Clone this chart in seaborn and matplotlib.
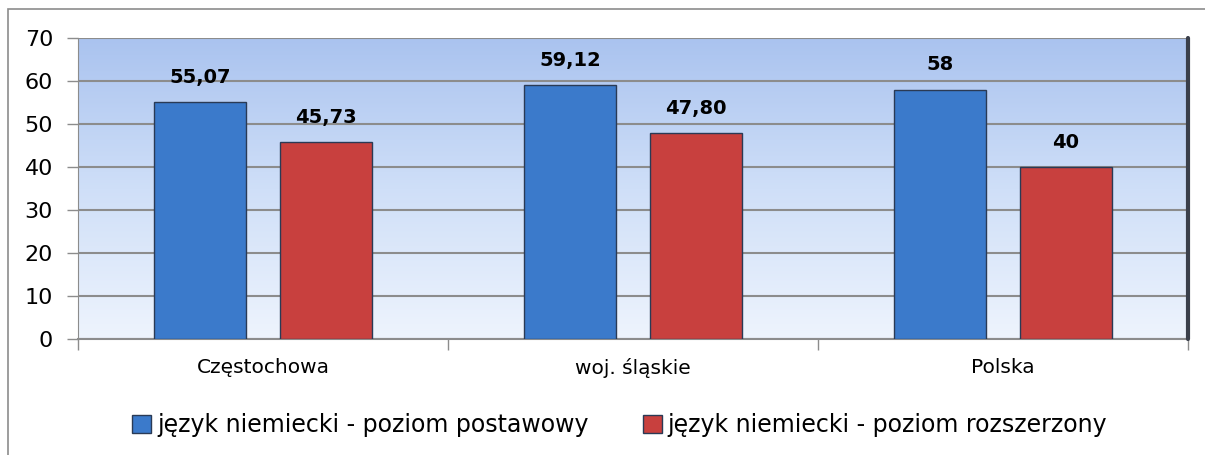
import numpy as np
import pandas as pd
import matplotlib
matplotlib.use('Agg')
import matplotlib.pyplot as plt
import seaborn as sns
from matplotlib.patches import Rectangle

categories = ['Częstochowa', 'woj. śląskie', 'Polska']
series_names = ['język niemiecki - poziom postawowy',
                'język niemiecki - poziom rozszerzony']
basic = [55.07, 59.12, 58]
extended = [45.73, 47.80, 40]
basic_labels = ['55,07', '59,12', '58']
extended_labels = ['45,73', '47,80', '40']
yticks = [0, 10, 20, 30, 40, 50, 60, 70]

df = pd.DataFrame({
    'miasto': categories * 2,
    'seria': [series_names[0]] * 3 + [series_names[1]] * 3,
    'wynik': basic + extended,
})

sns.set_style('white')
plt.rcParams['font.family'] = ['DejaVu Sans']
plt.rcParams['text.color'] = 'black'
plt.rcParams['xtick.labelcolor'] = 'black'
plt.rcParams['ytick.labelcolor'] = 'black'

fig = plt.figure(figsize=[12.05, 4.55], dpi=100)
ax = fig.add_axes([78 / 1205, 1 - 339 / 455, 1110 / 1205, 301 / 455])

# outer chart border
fig.patches.append(Rectangle((8 / 1205, -0.1), 1.2, 1 - 9 / 455 + 0.1,
                             transform=fig.transFigure, fill=False,
                             edgecolor='#8c8c8c', linewidth=1.2))

# background gradient of the plot area
grad = np.linspace(0, 1, 256)[:, np.newaxis]
cmap = matplotlib.colors.LinearSegmentedColormap.from_list(
    'bg', ['#eef4fd', '#cfdff8', '#aac3ef'])
ax.imshow(grad, aspect='auto', cmap=cmap, origin='lower',
          extent=[-0.5, 2.5, 0, 70], zorder=0)

palette = ['#3b7acb', '#c8403e']
sns.barplot(data=df, x='miasto', y='wynik', hue='seria', order=categories,
            hue_order=series_names, palette=palette, width=0.68, gap=0.265,
            saturation=1, edgecolor='#2a3a55', linewidth=1.0, ax=ax,
            zorder=3)

for cont, labels in zip(ax.containers, [basic_labels, extended_labels]):
    ax.bar_label(cont, labels=labels, padding=11, fontsize=14,
                 fontweight='bold', color='black')

ax.set_xlim(-0.5, 2.5)
ax.set_ylim(0, 70)
ax.set_yticks(yticks)
ax.set_yticklabels([str(t) for t in yticks], fontsize=16)
ax.yaxis.grid(True, color='#8c8c8c', linewidth=1.5, zorder=1)
ax.set_axisbelow(True)
ax.tick_params(axis='y', length=8, width=1, color='#8c8c8c', pad=10, left=True)
ax.tick_params(axis='x', which='major', length=0, pad=14, labelsize=14.5)
ax.set_xticks([-0.5, 0.5, 1.5, 2.5], minor=True)
ax.tick_params(axis='x', which='minor', length=8, width=1, color='#8c8c8c',
               bottom=True)
ax.set_xlabel('')
ax.set_ylabel('')
for side in ['top', 'right']:
    ax.spines[side].set_visible(False)
ax.spines['left'].set_color('#8c8c8c')
ax.spines['bottom'].set_color('#8c8c8c')
ax.spines['bottom'].set_linewidth(1.5)
ax.plot([2.5, 2.5], [0, 70], color='#3a3f4a', linewidth=3, zorder=4,
        clip_on=False)

handles, labels = ax.get_legend_handles_labels()
ax.legend(handles, labels, loc='center', bbox_to_anchor=(0.488, -0.285),
          ncol=2, frameon=False, fontsize=17, handlelength=0.8,
          handleheight=0.8, handletextpad=0.25, columnspacing=2.3)

fig.savefig('out.png', dpi=100)
